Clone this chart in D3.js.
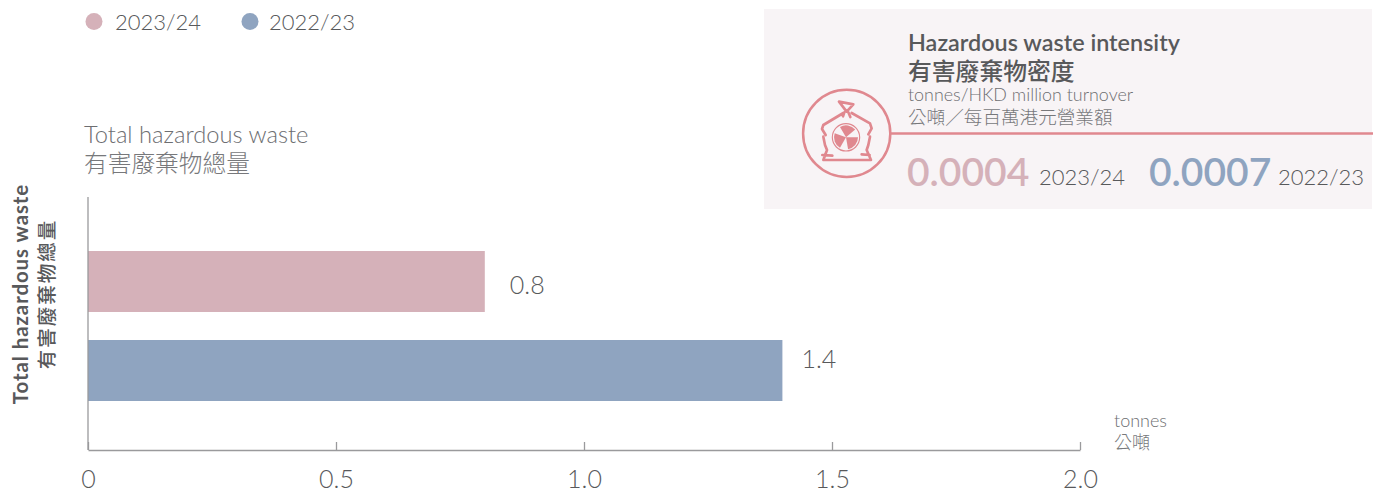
<!DOCTYPE html>
<html>
<head>
<meta charset="utf-8">
<script src="https://cdn.jsdelivr.net/npm/d3@7/dist/d3.min.js"></script>
<style>
html,body{margin:0;padding:0;background:#fff}
svg{display:block}
text{font-family:Lato,"Noto Sans CJK TC",sans-serif;font-weight:300;fill:#58595b}
.cjk{font-family:"Noto Sans CJK TC",sans-serif;font-weight:300}
</style>
</head>
<body>
<svg id="chart" width="1373" height="494"></svg>
<script>
// Annual hazardous waste totals, in tonnes
const years = ["2023/24", "2022/23"];
const totals = [0.8, 1.4];
const intensity = ["0.0004", "0.0007"];
const ticks = [0, 0.5, 1.0, 1.5, 2.0];
const colours = ["#d5b1b9", "#8fa4c0"];
const accent = "#e0888f";

const svg = d3.select("#chart");
const x = d3.scaleLinear().domain([0, 2]).range([88, 1080]);
const y = d3.scaleBand().domain(years).range([251, 401]).paddingInner(28 / 89);

function label(parent, px, py, str, size, opts = {}) {
  return parent.append("text")
    .attr("x", px).attr("y", py)
    .attr("font-size", size)
    .attr("text-anchor", opts.anchor || "start")
    .attr("class", opts.cjk ? "cjk" : null)
    .style("fill", opts.fill || null)
    .style("font-weight", opts.weight || null)
    .style("letter-spacing", opts.spacing || null)
    .text(str);
}

// Legend
const legendX = [94, 250];
const legendTextX = [115, 269];
years.forEach((yr, i) => {
  svg.append("circle").attr("cx", legendX[i]).attr("cy", 21.5).attr("r", 8.5).attr("fill", colours[i]);
  label(svg, legendTextX[i], 30, yr, 22);
});

// Chart heading
label(svg, 84, 143, "Total hazardous waste", 23.7, {fill: "#6d6e71"});
label(svg, 84, 172, "有害廢棄物總量", 23.7, {cjk: true, fill: "#77787b"});

// Rotated category label
const side = svg.append("g").attr("transform", "translate(0,294) rotate(-90)");
label(side, 0, 28, "Total hazardous waste", 20.5, {anchor: "middle", weight: 700, spacing: "0.9px"});
label(side, 0, 54, "有害廢棄物總量", 19.5, {anchor: "middle", cjk: true, weight: 500, spacing: "2px"});

// Bars and value labels
svg.selectAll("rect.bar").data(years).join("rect")
  .attr("class", "bar")
  .attr("x", x(0))
  .attr("y", d => y(d))
  .attr("width", (d, i) => x(totals[i]) - x(0))
  .attr("height", y.bandwidth())
  .attr("fill", (d, i) => colours[i]);

const valueY = [294, 368];
const valueGap = [25, 19];
years.forEach((yr, i) => {
  label(svg, x(totals[i]) + valueGap[i], valueY[i], d3.format(".1f")(totals[i]), 25);
});

// Axes
const axis = d3.axisBottom(x).tickValues(ticks).tickSize(-8).tickSizeOuter(0)
  .tickFormat(d => d === 0 ? "0" : d3.format(".1f")(d));
const gx = svg.append("g").attr("transform", "translate(0,450)").call(axis);
gx.select(".domain").attr("stroke", "#9a9a9c").attr("stroke-width", 1.3);
gx.selectAll(".tick line").attr("stroke", "#9a9a9c").attr("stroke-width", 1.3);
gx.selectAll(".tick text").attr("y", 20).attr("dy", "0.71em")
  .attr("font-size", 25).attr("font-family", null);
svg.append("line").attr("x1", x(0)).attr("x2", x(0)).attr("y1", 197).attr("y2", 450)
  .attr("stroke", "#9a9a9c").attr("stroke-width", 1.3);

label(svg, 1114, 427, "tonnes", 18, {fill: "#6d6e71"});
label(svg, 1114, 449, "公噸", 18, {cjk: true, fill: "#77787b"});

// Intensity panel
svg.append("rect").attr("x", 764).attr("y", 9).attr("width", 608).attr("height", 200).attr("fill", "#f8f4f6");
svg.append("line").attr("x1", 889).attr("x2", 1373).attr("y1", 133.5).attr("y2", 133.5)
  .attr("stroke", accent).attr("stroke-width", 2.5);

label(svg, 908, 51, "Hazardous waste intensity", 23.4, {weight: 600});
label(svg, 908, 80, "有害廢棄物密度", 23.8, {cjk: true, weight: 500});
label(svg, 908, 101, "tonnes/HKD million turnover", 17.9, {fill: "#6d6e71"});
label(svg, 908, 124, "公噸／每百萬港元營業額", 18.6, {cjk: true, fill: "#77787b"});

label(svg, 907, 185.5, intensity[0], 39, {fill: colours[0], weight: 600});
label(svg, 1039, 185, years[0], 22);
label(svg, 1149, 185.5, intensity[1], 39, {fill: colours[1], weight: 600});
label(svg, 1278, 185, years[1], 22);

// Waste bag emblem
svg.append("circle").attr("cx", 846.7).attr("cy", 133.4).attr("r", 43.6)
  .attr("fill", "none").attr("stroke", accent).attr("stroke-width", 2.5);
const icon = svg.append("g").attr("transform", "translate(815,95) scale(0.3333)")
  .attr("fill", "none").attr("stroke", accent).attr("stroke-linejoin", "round").attr("stroke-linecap", "round");
icon.append("path").attr("stroke-width", 8)
  .attr("d", "M72 20L115 28L95 50ZM88 52L84 64M100 52L106 66M85 54L25 90L21 102L32 120M110 54L165 85L170 100L160 118M25 125L30 150L36 165M165 125L160 150L155 165M22 180L52 182M140 178L164 180M36 165L25 195H168L155 165");
const fan = icon.append("g").attr("transform", "translate(93,127)");
fan.append("circle").attr("r", 41).attr("stroke-width", 3.5);
[10, 130, 250].forEach(a => {
  const blade = d3.arc().innerRadius(0).outerRadius(36)
    .startAngle((a - 40) * Math.PI / 180).endAngle((a + 40) * Math.PI / 180);
  fan.append("path").attr("d", blade()).attr("fill", accent).attr("stroke", "none");
});
</script>
</body>
</html>
